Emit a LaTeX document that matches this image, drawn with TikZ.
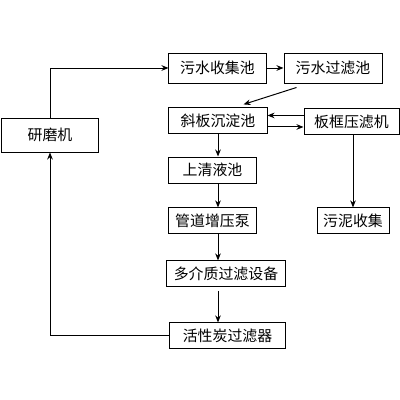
\documentclass[tikz,border=0pt]{standalone}
\usepackage{fontspec}
\newfontfamily\cjk{Noto Sans CJK SC}
\usetikzlibrary{arrows.meta,calc}

\begin{document}
\begin{tikzpicture}[x=0.025cm, y=-0.025cm,
    box/.style={draw, line width=0.7pt, inner sep=0pt, font=\cjk\fontsize{10.6}{12}\selectfont},
    flow/.style={-{Stealth[length=5pt,width=4pt]}, line width=0.7pt}]
    % --- 画布范围 ---
    \useasboundingbox (0,0) rectangle (400,400);

    % --- 各处理单元 ---
    \node[box, minimum width=2.4cm,   minimum height=0.85cm] (grind)   at (50,135)    {研磨机};
    \node[box, minimum width=2.425cm, minimum height=0.75cm] (collect) at (217.5,68)  {污水收集池};
    \node[box, minimum width=2.45cm,  minimum height=0.75cm] (filt)    at (333,68)    {污水过滤池};
    \node[box, minimum width=2.45cm,  minimum height=0.63cm] (settle)  at (218,120.5) {斜板沉淀池};
    \node[box, minimum width=2.375cm, minimum height=0.63cm] (press)   at (351.5,121.5) {板框压滤机};
    \node[box, minimum width=2.175cm, minimum height=0.65cm] (clear)   at (212.5,170) {上清液池};
    \node[box, minimum width=2.175cm, minimum height=0.63cm] (pump)    at (212.5,220.5) {管道增压泵};
    \node[box, minimum width=1.8cm,   minimum height=0.63cm] (sludge)  at (353,220.5) {污泥收集};
    \node[box, minimum width=2.95cm,  minimum height=0.63cm] (multi)   at (226,273.5) {多介质过滤设备};
    \node[box, minimum width=2.875cm, minimum height=0.63cm] (carbon)  at (227.5,335.5) {活性炭过滤器};

    % --- 上部流程 ---
    \draw[flow] (grind.north) |- (collect.west);
    \draw[flow] (collect) -- (filt);
    \draw[flow] ($(filt.south west)+(13,4)$) -- ($(settle.north east)+(-24,-3)$);

    % --- 沉淀池与压滤机之间 ---
    \draw[flow] ([yshift=4.3pt]press.west) -- ([yshift=4.3pt]press.west -| settle.east);
    \draw[flow] ([yshift=-4.6pt]settle.east) -- ([yshift=-4.6pt]settle.east -| press.west);
    \draw[flow] (sludge.north |- press.south) -- (sludge.north);

    % --- 主流程 (竖直) ---
    \draw[flow] (settle.south) -- (settle.south |- clear.north);
    \draw[flow] (settle.south |- clear.south) -- (settle.south |- pump.north);
    \draw[flow] (settle.south |- pump.south) -- (settle.south |- multi.north);
    \draw[flow] ([yshift=-3pt]settle.south |- multi.south) -- (settle.south |- carbon.north);

    % --- 回流至研磨机 ---
    \draw[flow] (carbon.west) -| (grind.south);
\end{tikzpicture}
\end{document}
